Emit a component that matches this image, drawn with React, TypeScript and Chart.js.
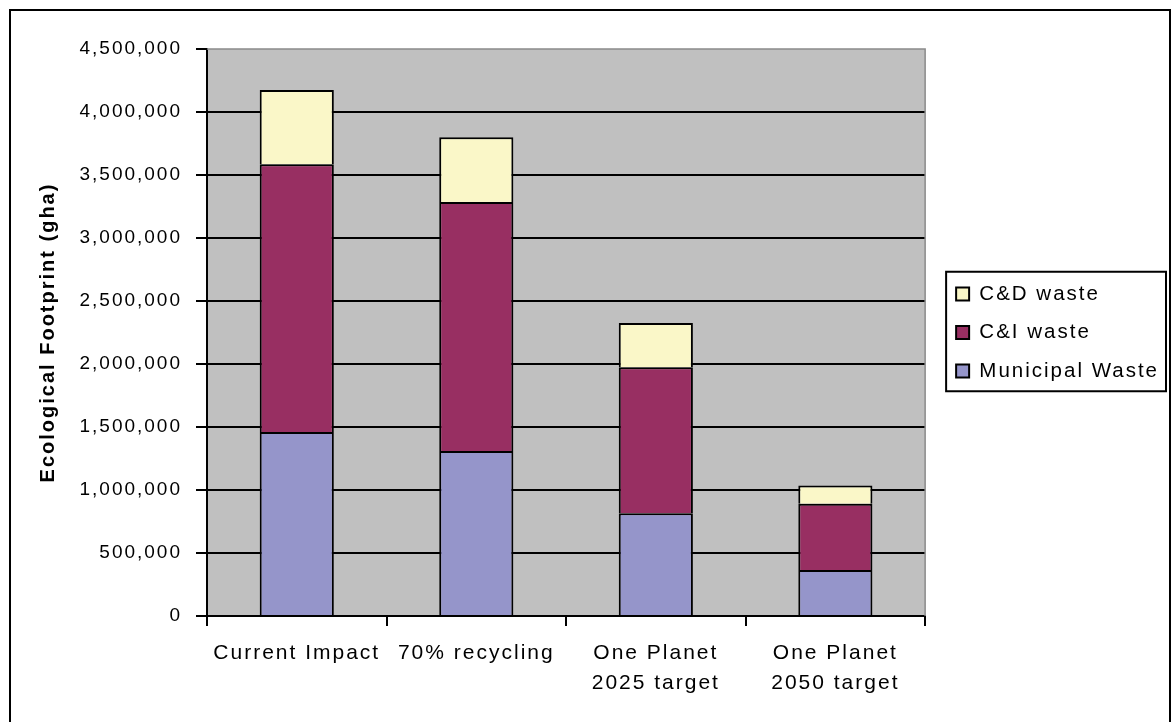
import React, { useEffect, useRef } from 'react';
import { Chart, registerables } from 'chart.js';

Chart.register(...registerables);

const categories: (string | string[])[] = [
  'Current Impact',
  '70% recycling',
  ['One Planet', '2025 target'],
  ['One Planet', '2050 target'],
];
const municipalWaste = [1460000, 1310000, 815000, 365000];
const ciWaste = [2125000, 1975000, 1160000, 525000];
const cdWaste = [590000, 515000, 350000, 145000];
const seriesNames = ['Municipal Waste', 'C&I waste', 'C&D waste'];
const yMin = 0;
const yMax = 4500000;
const yStep = 500000;
const yTitle = 'Ecological Footprint (gha)';

const FONT = "'Liberation Sans', Arial, sans-serif";

const spacingPlugin = {
  id: 'spacing',
  beforeUpdate(chart: any) {
    chart.ctx.letterSpacing = '2px';
  },
  beforeDraw(chart: any) {
    chart.ctx.letterSpacing = '2px';
  },
};

const plotBgPlugin = {
  id: 'plotBg',
  beforeDraw(chart: any) {
    const { ctx, chartArea: a } = chart;
    ctx.save();
    ctx.fillStyle = '#C0C0C0';
    ctx.fillRect(a.left, a.top, a.right - a.left, a.bottom - a.top);
    ctx.restore();
  },
  beforeDatasetsDraw(chart: any) {
    const { ctx, chartArea: a } = chart;
    ctx.save();
    ctx.strokeStyle = '#8a8a8a';
    ctx.lineWidth = 1.5;
    ctx.beginPath();
    ctx.moveTo(a.left, a.top);
    ctx.lineTo(a.right, a.top);
    ctx.lineTo(a.right, a.bottom);
    ctx.stroke();
    ctx.restore();
  },
};

const legendBoxPlugin = {
  id: 'legendBox',
  afterDraw(chart: any) {
    const lg = chart.legend;
    if (!lg || !lg.legendHitBoxes || !lg.legendHitBoxes.length) return;
    const hb = lg.legendHitBoxes;
    const top = hb[0].top - 12;
    const bottom = hb[hb.length - 1].top + hb[hb.length - 1].height + 10;
    const left = hb[0].left - 10;
    let right = 0;
    hb.forEach((h: any) => {
      right = Math.max(right, h.left + h.width);
    });
    right += 7;
    const ctx = chart.ctx;
    ctx.save();
    ctx.strokeStyle = '#000';
    ctx.lineWidth = 2;
    ctx.strokeRect(left, top, right - left, bottom - top);
    ctx.restore();
  },
};

export default function App() {
  const ref = useRef<HTMLCanvasElement>(null);
  useEffect(() => {
    Chart.defaults.font.family = FONT;
    Chart.defaults.color = '#000';
    const common = {
      borderColor: '#000',
      borderWidth: 2,
      borderSkipped: 'start' as const,
      barPercentage: 0.413,
      categoryPercentage: 1,
    };
    const chart = new Chart(ref.current as HTMLCanvasElement, {
      type: 'bar',
      data: {
        labels: categories,
        datasets: [
          { label: seriesNames[0], data: municipalWaste, backgroundColor: '#9595CA', ...common },
          { label: seriesNames[1], data: ciWaste, backgroundColor: '#982F62', ...common },
          { label: seriesNames[2], data: cdWaste, backgroundColor: '#FAF7C8', ...common },
        ],
      },
      options: {
        responsive: false,
        animation: false,
        devicePixelRatio: 1,
        layout: { padding: { top: 38, left: 0, right: 0, bottom: 0 } },
        scales: {
          x: {
            stacked: true,
            offset: true,
            grid: {
              display: true,
              drawOnChartArea: false,
              offset: true,
              color: '#000',
              lineWidth: 2,
              tickLength: 10,
            },
            border: { display: true, color: '#000', width: 2 },
            ticks: {
              font: { size: 21, lineHeight: 1.4 },
              color: '#000',
              padding: 13,
              maxRotation: 0,
              autoSkip: false,
            },
            afterFit: (s: any) => {
              s.height = 106;
            },
          },
          y: {
            stacked: true,
            min: yMin,
            max: yMax,
            grid: {
              color: (c: any) => (c.tick && c.tick.value === yMax ? 'rgba(0,0,0,0)' : '#000'),
              tickColor: '#000',
              lineWidth: 2,
              tickLength: 11,
            },
            border: { display: true, color: '#000', width: 2 },
            ticks: {
              stepSize: yStep,
              font: { size: 19 },
              color: '#000',
              padding: 14,
              callback: (v: any) => Number(v).toLocaleString('en-US'),
            },
            title: {
              display: true,
              text: yTitle,
              font: { size: 20, weight: 'bold' },
              color: '#000',
              padding: { top: 25, bottom: 0 },
            },
            afterFit: (s: any) => {
              s.width = 196;
            },
          },
          gap: {
            type: 'linear',
            position: 'right',
            display: true,
            grid: { display: false, drawTicks: false },
            ticks: { display: false },
            border: { display: false },
            afterFit: (s: any) => {
              s.width = 13;
            },
          },
        },
        plugins: {
          legend: {
            position: 'right',
            fullSize: false,
            reverse: true,
            maxWidth: 400,
            labels: {
              boxWidth: 13,
              boxHeight: 13,
              padding: 18,
              font: { size: 20.5 },
              color: '#000',
            },
          },
          tooltip: { enabled: false },
          title: { display: false },
        },
      } as any,
      plugins: [spacingPlugin, plotBgPlugin, legendBoxPlugin],
    });
    return () => chart.destroy();
  }, []);
  return (
    <div
      style={{
        position: 'absolute',
        left: 9,
        top: 9,
        width: 1162,
        height: 713,
        boxSizing: 'border-box',
        borderTop: '2px solid #000',
        borderLeft: '2px solid #000',
        borderRight: '2px solid #000',
        background: '#fff',
      }}
    >
      <canvas ref={ref} width={1158} height={711} style={{ display: 'block', width: 1158, height: 711 }} />
    </div>
  );
}
